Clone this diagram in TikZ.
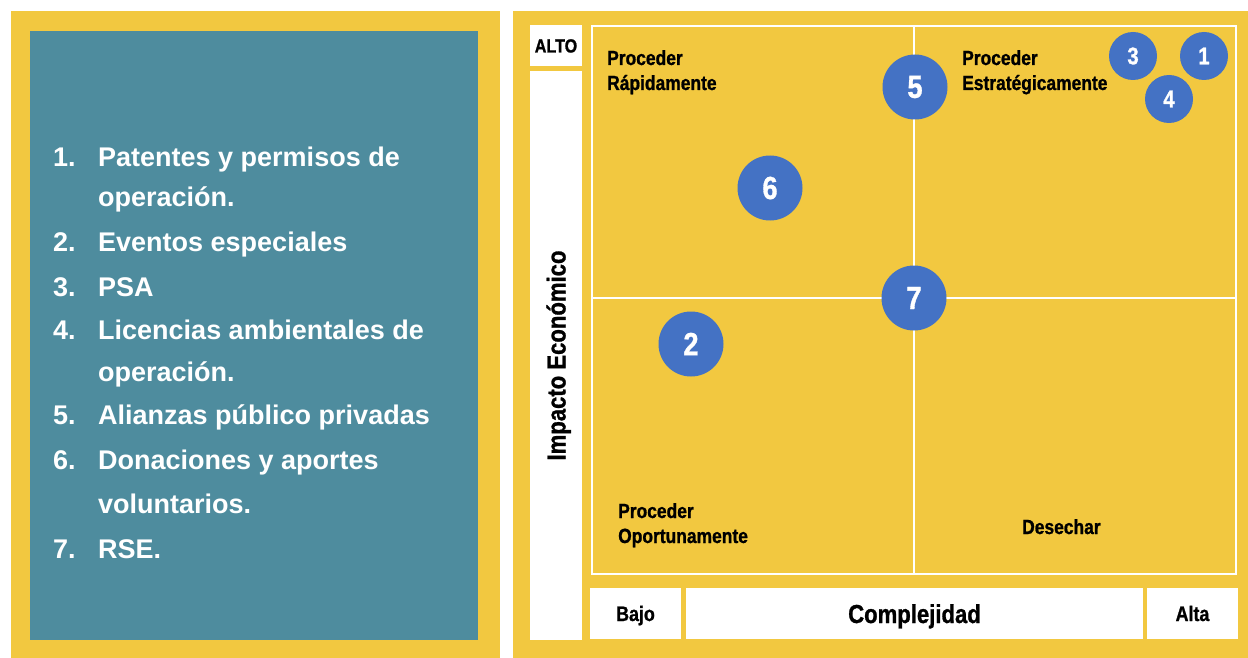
\documentclass[tikz,border=0pt]{standalone}
\usepackage{fontspec}
\setmainfont{Liberation Sans}
\newfontfamily\condfont{Liberation Sans}[FakeStretch=0.85, BoldFeatures={FakeBold=1}]
\usetikzlibrary{positioning}
\definecolor{amarillo}{HTML}{F2C840}
\definecolor{petroleo}{HTML}{4E8C9E}
\definecolor{azul}{HTML}{4472C4}
\tikzset{%
	panel/.style    = {fill=amarillo, draw=none},
	caja/.style     = {fill=white, draw=none, inner sep=0pt, text=black, text height=15pt, text depth=0pt, font=\condfont\bfseries\fontsize{21}{24}\selectfont},
	eje/.style      = {caja, text height=19pt, font=\condfont\bfseries\fontsize{26}{30}\selectfont},
	rejilla/.style  = {draw=white, line width=2.5pt},
	etiqueta/.style = {anchor=base west, inner sep=0pt, text=black, font=\condfont\bfseries\fontsize{20.5}{24}\selectfont},
	item/.style     = {anchor=base west, inner sep=0pt, text=white, font=\bfseries\fontsize{27}{32}\selectfont},
	punto/.style    = {circle, fill=azul, draw=none, inner sep=0pt, minimum size=65pt, text=white, font=\condfont\bfseries\fontsize{32}{34}\selectfont}, % big circle
	puntito/.style  = {punto, minimum size=48pt, font=\condfont\bfseries\fontsize{24}{26}\selectfont}, % small circle
}
\begin{document}
\begin{tikzpicture}[x=1pt, y=-1pt]
	\useasboundingbox[fill=white] (0,0) rectangle (1248,658);
	% left panel
	\fill[panel] (11,11) rectangle (500,658);
	\fill[petroleo] (30,31) rectangle (478,640);
	\node[item] (n1) at (53,167) {1.};
	\node[item] (t1a) at (98,167) {Patentes y permisos de};
	\node[item] (t1b) at (98,206) {operación.};
	\node[item] (n2) at (53,251) {2.};
	\node[item] (t2) at (98,251) {Eventos especiales};
	\node[item] (n3) at (53,296) {3.};
	\node[item] (t3) at (98,296) {PSA};
	\node[item] (n4) at (53,339) {4.};
	\node[item] (t4a) at (98,339) {Licencias ambientales de};
	\node[item] (t4b) at (98,381) {operación.};
	\node[item] (n5) at (53,424) {5.};
	\node[item] (t5) at (98,424) {Alianzas público privadas};
	\node[item] (n6) at (53,469) {6.};
	\node[item] (t6a) at (98,469) {Donaciones y aportes};
	\node[item] (t6b) at (98,513) {voluntarios.};
	\node[item] (n7) at (53,558) {7.};
	\node[item] (t7) at (98,558) {RSE.};

	% right panel
	\fill[panel] (513,11) rectangle (1248,658);
	\node[caja, minimum width=52pt, minimum height=41pt, text height=14pt, font=\condfont\bfseries\fontsize{19}{22}\selectfont] (alto) at (556,45.5) {ALTO};
	\node[eje, rotate=90, minimum width=569pt, minimum height=52pt] (impacto) at (556,355.5) {Impacto Económico};
	\node[caja, minimum width=91pt, minimum height=51pt] (bajo) at (635.5,613.5) {Bajo};
	\node[eje, minimum width=457pt, minimum height=51pt] (compl) at (914.5,613.5) {Complejidad};
	\node[caja, minimum width=91pt, minimum height=51pt] (alta) at (1192.5,613.5) {Alta};

	% quadrants
	\coordinate (no) at (592,26);
	\coordinate (se) at (1236,574);
	\coordinate (mid) at (914,298);
	\draw[rejilla] (no) rectangle (se);
	\draw[rejilla, line width=2pt] (no -| mid) -- (se -| mid);
	\draw[rejilla, line width=2pt] (no |- mid) -- (se |- mid);

	\node[etiqueta] (q1a) at (607,65) {Proceder};
	\node[etiqueta] (q1b) at (607,90) {Rápidamente};
	\node[etiqueta] (q2a) at (962,65) {Proceder};
	\node[etiqueta] (q2b) at (962,90) {Estratégicamente};
	\node[etiqueta] (q3a) at (618,518) {Proceder};
	\node[etiqueta] (q3b) at (618,543) {Oportunamente};
	\node[etiqueta] (q4) at (1022,534) {Desechar};

	% points
	\node[punto] (p5) at (915,87) {5};
	\node[punto] (p6) at (770,188) {6};
	\node[punto] (p7) at (914,298) {7};
	\node[punto] (p2) at (691,344) {2};
	\node[puntito] (p3) at (1133,56) {3};
	\node[puntito] (p1) at (1204,56) {1};
	\node[puntito] (p4) at (1169,99) {4};
\end{tikzpicture}
\end{document}
